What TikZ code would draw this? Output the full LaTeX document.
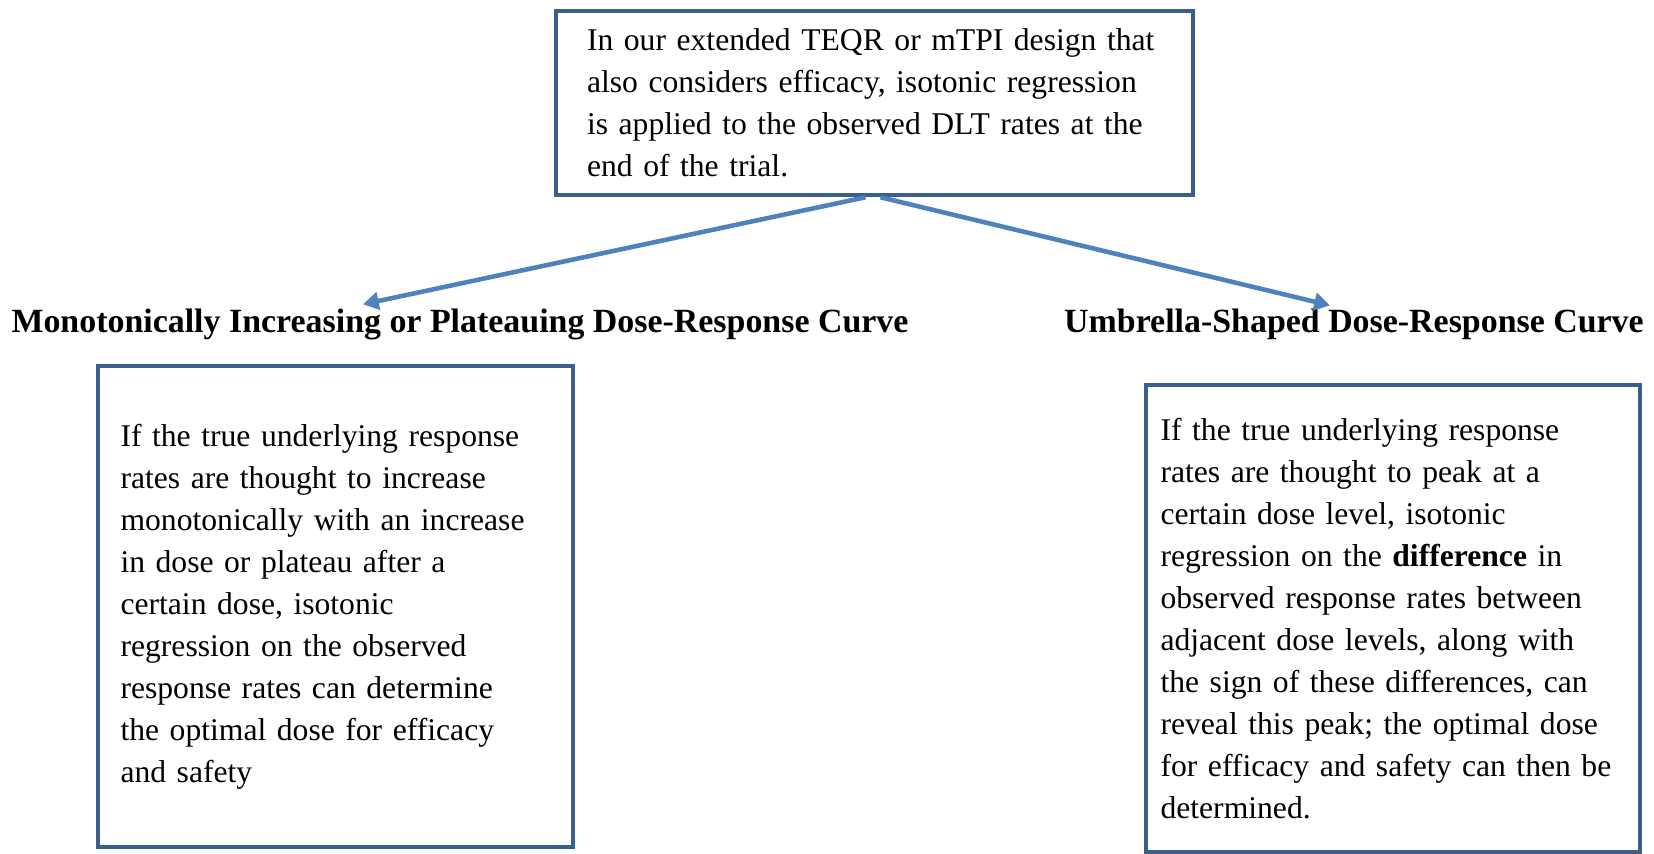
\documentclass[tikz,border=0pt]{standalone}
\usepackage{fontspec}
\setmainfont{Liberation Serif}
\usetikzlibrary{arrows.meta}
\usetikzlibrary{calc}
\usetikzlibrary{positioning}
\definecolor{boxblue}{HTML}{3B5E8C}
\definecolor{arrowblue}{HTML}{4F81BD}

\begin{document}
\begin{tikzpicture}[
            x=0.02cm, y=-0.02cm,
            textbox/.style = {draw=boxblue, line width=2.6pt, rectangle, align=left, inner ysep=0pt, font=\fontsize{18}{23.9}\selectfont},
            heading/.style = {font=\fontsize{19.3}{23.9}\selectfont\bfseries},
            flow/.style = {draw=arrowblue, line width=2.6pt, -{Triangle[length=9pt, width=10pt]}}
          ]
          \useasboundingbox (0,0) rectangle (1654,854);

          \node[textbox, minimum height=3.68cm, text width=11.5cm, inner xsep=0.62cm] (design) at (874.5,103)
            {In our extended TEQR or mTPI design that\\ also considers efficacy, isotonic regression\\ is applied to the observed DLT rates at the\\ end of the trial.};

          \node[heading] (monotone) at (460,324) {Monotonically Increasing or Plateauing Dose-Response Curve};
          \node[heading] (umbrella) at (1354,324) {Umbrella-Shaped Dose-Response Curve};

          \node[textbox, minimum height=9.62cm, text width=8.6cm, inner xsep=0.45cm] (monotone_txt) at (335.5,606.5)
            {If the true underlying response\\ rates are thought to increase\\ monotonically with an increase\\ in dose or plateau after a\\ certain dose, isotonic\\ regression on the observed\\ response rates can determine\\ the optimal dose for efficacy\\ and safety};
          \node[textbox, minimum height=9.34cm, text width=9.3cm, inner xsep=0.29cm] (umbrella_txt) at (1393,618.5)
            {If the true underlying response\\ rates are thought to peak at a\\ certain dose level, isotonic\\ regression on the \textbf{difference} in\\ observed response rates between\\ adjacent dose levels, along with\\ the sign of these differences, can\\ reveal this peak; the optimal dose\\ for efficacy and safety can then be\\ determined.};

          \draw[flow] ($(design.south)+(-9,0)$) -- ($(monotone.north)+(-97,2)$);
          \draw[flow] ($(design.south)+(6,0)$) -- ($(umbrella.north)+(-24,3)$);
        \end{tikzpicture}
\end{document}
